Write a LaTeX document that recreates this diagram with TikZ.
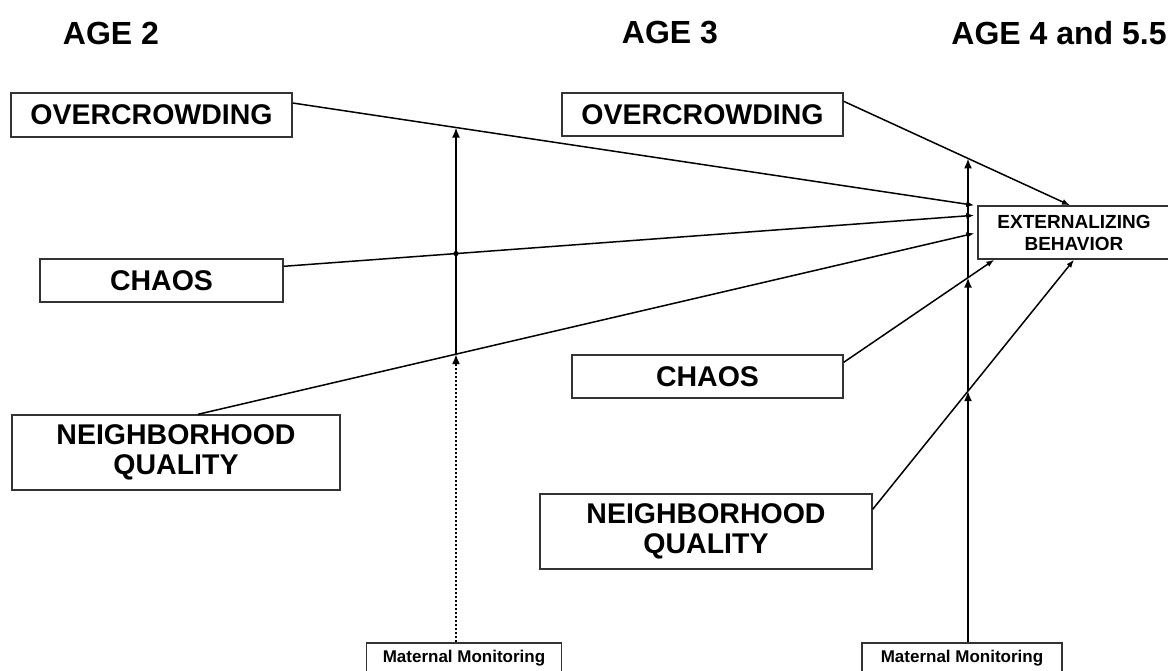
\documentclass[tikz,border=0pt]{standalone}
\usepackage{fontspec}
\setmainfont{Liberation Sans}
\usetikzlibrary{arrows.meta,intersections,positioning}

\tikzset{
  varbox/.style={draw=black!80, line width=1.4pt, fill=white, align=center, inner sep=0pt,
    font=\bfseries\fontsize{28.5}{30}\selectfont},
  mmbox/.style={varbox, font=\bfseries\fontsize{17}{20}\selectfont},
  outbox/.style={varbox, font=\bfseries\fontsize{19}{22}\selectfont},
  agelabel/.style={font=\bfseries\fontsize{32}{34}\selectfont},
  effect/.style={line width=1.5pt, -{Latex[length=8pt,width=6pt]}},
  moder/.style={line width=1.7pt, -{Latex[length=10pt,width=8pt]}}
}

\begin{document}
\begin{tikzpicture}[x=1pt,y=-1pt]
		\useasboundingbox (0,0) rectangle (1168,670);
		\node[agelabel] (ageA) at (111,33) {AGE 2};
		\node[agelabel] (ageB) at (670,33) {AGE 3};
		\node[agelabel] (ageC) at (1059,33) {AGE 4 and 5.5};
		
		% age 2 predictors
		\node[varbox, minimum width=281, minimum height=44] (ovA) at (151.5,115) {OVERCROWDING};
		\node[varbox, minimum width=243, minimum height=43] (chA) at (161.5,280.5) {CHAOS};
		\node[varbox, minimum width=328, minimum height=75] (nbA) at (176,452.5) {NEIGHBORHOOD\\QUALITY};
		
		% age 3 predictors
		\node[varbox, minimum width=281, minimum height=43] (ovB) at (702.5,114.5) {OVERCROWDING};
		\node[varbox, minimum width=271, minimum height=43] (chB) at (707.5,376.5) {CHAOS};
		\node[varbox, minimum width=332, minimum height=75] (nbB) at (706,531.5) {NEIGHBORHOOD\\QUALITY};
		
		\node[outbox, minimum width=192, minimum height=53] (eb) at (1074,232.5) {EXTERNALIZING\\BEHAVIOR};
		
		\node[mmbox, minimum width=195, minimum height=30] (mmA) at (464,658) {Maternal Monitoring};
		\node[mmbox, minimum width=200, minimum height=30] (mmB) at (962,658) {Maternal Monitoring};
		
		\draw[effect, name path=ovAeb] ([yshift=12pt]ovA.east) -- ([xshift=-3pt]eb.north west);
		\draw[effect, name path=chAeb] ([yshift=-8pt]chA.north east) -- ([xshift=-3pt,yshift=-10pt]eb.north west);
		\draw[effect, name path=nbAeb] ([xshift=22pt]nbA.north) -- ([xshift=-3pt,yshift=-28pt]eb.north west);
		
		\draw[effect, name path=ovBeb] ([yshift=-9pt]ovB.north east) -- ([xshift=-4pt]eb.north);
		\draw[effect, name path=chBeb] ([yshift=-8pt]chB.north east) -- ([xshift=17pt]eb.south west);
		\draw[effect, name path=nbBeb] ([yshift=-16pt]nbB.north east) -- (eb.south);
		
		% moderator lines
		\path[name path=modA] ([xshift=-8pt]mmA.north) -- ++(0,-560);
		\path[name path=modB] ([xshift=6pt]mmB.north) -- ++(0,-560);
		\path[name intersections={of=modA and ovAeb, by=mOA}];
		\path[name intersections={of=modA and chAeb, by=mCA}];
		\path[name intersections={of=modA and nbAeb, by=mNA}];
		\path[name intersections={of=modB and ovBeb, by=mOB}];
		\path[name intersections={of=modB and chBeb, by=mCB}];
		\path[name intersections={of=modB and nbBeb, by=mNB}];
		
		\draw[moder, dash pattern=on 2pt off 2pt] ([xshift=-8pt]mmA.north) -- (mNA);
		\draw[moder] (mNA) -- (mOA);
		\fill (mCA) circle (2.6pt);
		
		\draw[moder] ([xshift=6pt]mmB.north) -- (mNB);
		\draw[moder] (mNB) -- (mCB);
		\draw[moder] (mCB) -- (mOB);
	\end{tikzpicture}
\end{document}
